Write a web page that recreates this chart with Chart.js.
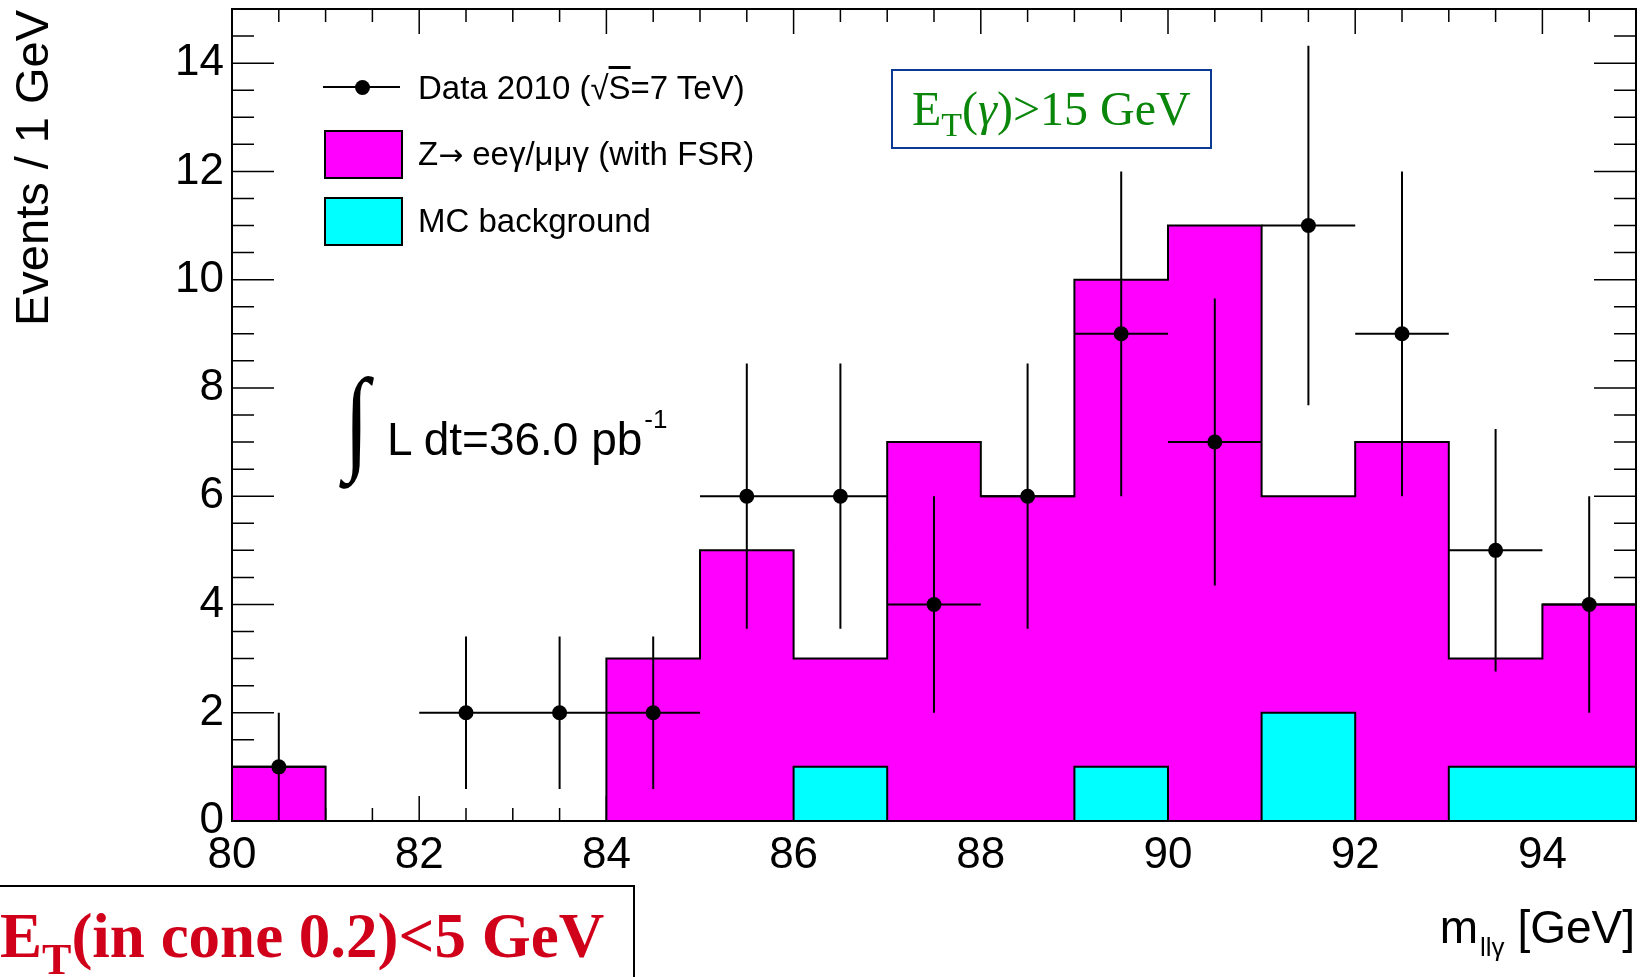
<!DOCTYPE html>
<html>
<head>
<meta charset="utf-8">
<title>m(llγ) distribution</title>
<script src="https://cdn.jsdelivr.net/npm/chart.js@4.4.1/dist/chart.umd.min.js"></script>
<style>
  html, body { margin: 0; padding: 0; background: #fff; }
  #wrap { position: relative; width: 1648px; height: 977px; overflow: hidden;
          font-family: "Liberation Sans", Arial, sans-serif; }
  #wrap canvas { position: absolute; left: 0; top: 0; }
  .txt { position: absolute; white-space: nowrap; line-height: 1; color: #000; }
  .serif { font-family: "Liberation Serif", "Times New Roman", serif; }
  .box { position: absolute; box-sizing: border-box; }
  .arrow { font-family: "DejaVu Sans", sans-serif; font-size: 0.9em; }
</style>
</head>
<body>
<div id="wrap">
  <canvas id="c" width="1648" height="977"></canvas>

  <div class="txt" style="left:8px; top:326px; font-size:47px; transform-origin:0 0; transform:rotate(-90deg);">Events / 1 GeV</div>
  <div class="txt" style="right:13px; top:904px; font-size:46px;">m<span style="font-size:26px; vertical-align:-13px; line-height:0; margin-left:2px;">llγ</span> [GeV]</div>

  <div id="legend"></div>

  <div class="txt serif" style="left:344px; top:362px; font-size:115px; transform-origin:0 0; transform:scaleX(0.8);">∫</div>
  <div class="txt" style="left:387px; top:416px; font-size:46px;">L dt=36.0 pb<span style="font-size:26px; vertical-align:27px; line-height:0; margin-left:2px;">-1</span></div>

  <div class="box" style="left:891px; top:69px; width:321px; height:80px; border:2.5px solid #0b3a94;"></div>
  <div class="txt serif" style="left:912px; top:85px; font-size:48px; color:#0a870a;">E<span style="font-size:34px; vertical-align:-11px; line-height:0;">T</span>(<i>γ</i>)&gt;15 GeV</div>

  <div class="box" style="left:-4px; top:885px; width:639px; height:120px; border:2px solid #000;"></div>
  <div class="txt serif" style="left:0px; top:905px; font-size:63px; font-weight:bold; color:#d0001a;">E<span style="font-size:44px; vertical-align:-17px; line-height:0;">T</span>(in cone 0.2)&lt;5 GeV</div>
</div>

<script>
// bins of m_llγ, 1 GeV wide
const binEdges = [80, 81, 82, 83, 84, 85, 86, 87, 88, 89, 90, 91, 92, 93, 94, 95];
const binCenters = [80.5, 81.5, 82.5, 83.5, 84.5, 85.5, 86.5, 87.5, 88.5, 89.5, 90.5, 91.5, 92.5, 93.5, 94.5];

// top of the stacked MC (Z -> eeγ/μμγ drawn over the background)
const stackTotal = [1, 0, 0, 0, 3, 5, 3, 7, 6, 10, 11, 6, 7, 3, 4];
const mcBackground = [0, 0, 0, 0, 0, 0, 1, 0, 0, 1, 0, 2, 0, 1, 1];

// data 2010 and its errors
const dataCounts = [1, 0, 2, 2, 2, 6, 6, 4, 6, 9, 7, 11, 9, 5, 4];
const dataErrors = [1, 0, 1.41, 1.41, 1.41, 2.45, 2.45, 2, 2.45, 3, 2.65, 3.32, 3, 2.24, 2];

const xMajorTicks = [80, 82, 84, 86, 88, 90, 92, 94];
const yMajorTicks = [0, 2, 4, 6, 8, 10, 12, 14];
const minorStep = 0.5;

Chart.defaults.font.family = '"Liberation Sans", Arial, sans-serif';
Chart.defaults.color = '#000';

// one point per bin edge, the last edge repeats the last bin
function histSteps(contents) {
    return binEdges.map((x, i) => ({ x: x, y: contents[Math.min(i, contents.length - 1)] }));
}

/**
 * Ticks pointing inwards on all four sides, frame drawn on top
 */
const frameTicks = {
    id: 'frameTicks',
    beforeDatasetsDraw(chart) {
        const { ctx, chartArea: a, scales: { x, y } } = chart;
        ctx.save();
        ctx.strokeStyle = '#000';
        ctx.lineWidth = 1.5;
        ctx.beginPath();
        for (let v = x.min; v <= x.max + 1e-9; v += minorStep) {
            const px = x.getPixelForValue(v);
            const len = xMajorTicks.includes(v) ? 25 : 13;
            ctx.moveTo(px, a.bottom); ctx.lineTo(px, a.bottom - len);
            ctx.moveTo(px, a.top); ctx.lineTo(px, a.top + len);
        }
        for (let v = y.min; v <= y.max + 1e-9; v += minorStep) {
            const py = y.getPixelForValue(v);
            const len = yMajorTicks.includes(v) ? 42 : 22;
            ctx.moveTo(a.left, py); ctx.lineTo(a.left + len, py);
            ctx.moveTo(a.right, py); ctx.lineTo(a.right - len, py);
        }
        ctx.stroke();
        ctx.restore();
    },
    afterDatasetsDraw(chart) {
        const { ctx, chartArea: a } = chart;
        ctx.save();
        ctx.strokeStyle = '#000';
        ctx.lineWidth = 2;
        ctx.strokeRect(a.left, a.top, a.right - a.left, a.bottom - a.top);
        ctx.restore();
    }
};

/**
 * Error bars of the data: sqrt(N) vertically, bin width horizontally
 */
const errorBars = {
    id: 'errorBars',
    afterDatasetsDraw(chart) {
        const { ctx, scales: { x, y } } = chart;
        ctx.save();
        ctx.strokeStyle = '#000';
        ctx.lineWidth = 2;
        ctx.beginPath();
        binCenters.forEach((c, i) => {
            if (dataCounts[i] <= 0) return;
            const px = x.getPixelForValue(c);
            const py = y.getPixelForValue(dataCounts[i]);
            ctx.moveTo(px, y.getPixelForValue(dataCounts[i] - dataErrors[i]));
            ctx.lineTo(px, y.getPixelForValue(dataCounts[i] + dataErrors[i]));
            ctx.moveTo(x.getPixelForValue(c - 0.5), py);
            ctx.lineTo(x.getPixelForValue(c + 0.5), py);
        });
        ctx.stroke();
        ctx.restore();
    }
};

const chart = new Chart(document.getElementById('c'), {
    type: 'line',
    data: {
        datasets: [
            {
                label: 'Data 2010',
                legendHtml: 'Data 2010 (√<span style="text-decoration:overline">S</span>=7 TeV)',
                kind: 'marker',
                data: binCenters.map((x, i) => ({ x: x, y: dataCounts[i] })).filter(p => p.y > 0),
                showLine: false,
                pointRadius: 7.5,
                pointHoverRadius: 7.5,
                pointBackgroundColor: '#000',
                pointBorderWidth: 0
            },
            {
                label: 'MC background',
                legendHtml: 'MC background',
                kind: 'box',
                data: histSteps(mcBackground),
                stepped: 'before',
                fill: 'origin',
                backgroundColor: '#00ffff',
                borderColor: '#000',
                borderWidth: 2,
                pointRadius: 0
            },
            {
                label: 'Z→ eeγ/μμγ (with FSR)',
                legendHtml: 'Z<span class="arrow">→</span> eeγ/μμγ (with FSR)',
                kind: 'box',
                data: histSteps(stackTotal),
                stepped: 'before',
                fill: 'origin',
                backgroundColor: '#ff00ff',
                borderColor: '#000',
                borderWidth: 2,
                pointRadius: 0
            }
        ]
    },
    options: {
        responsive: false,
        animation: false,
        events: [],
        layout: { padding: { top: 9, right: 12, left: 0, bottom: 0 } },
        plugins: {
            legend: { display: false },
            tooltip: { enabled: false }
        },
        scales: {
            x: {
                type: 'linear',
                min: 80,
                max: 95,
                grid: { display: false, drawTicks: false },
                border: { display: false },
                afterBuildTicks: s => { s.ticks = xMajorTicks.map(v => ({ value: v })); },
                afterFit: s => { s.height = 156; s.paddingLeft = 0; s.paddingRight = 0; },
                ticks: { font: { size: 44 }, color: '#000', padding: 8, maxRotation: 0, autoSkip: false }
            },
            y: {
                type: 'linear',
                min: 0,
                max: 15,
                grid: { display: false, drawTicks: false },
                border: { display: false },
                afterBuildTicks: s => { s.ticks = yMajorTicks.map(v => ({ value: v })); },
                afterFit: s => { s.width = 232; s.paddingTop = 0; s.paddingBottom = 0; },
                ticks: { font: { size: 44 }, color: '#000', padding: 8, autoSkip: false }
            }
        }
    },
    plugins: [frameTicks, errorBars]
});

// legend in the ROOT order: data, signal, background
function buildLegend(chart) {
    const order = [0, 2, 1];
    const rowTop = [71, 137, 204];
    const legend = document.getElementById('legend');
    legend.innerHTML = '';
    order.forEach((idx, r) => {
        const ds = chart.data.datasets[idx];
        const top = rowTop[r];
        if (ds.kind === 'marker') {
            legend.innerHTML += `
                <div class="box" style="left:323px; top:${top + 15}px; width:77px; height:2px; background:#000;"></div>
                <div class="box" style="left:355px; top:${top + 8.5}px; width:15px; height:15px; border-radius:50%; background:#000;"></div>`;
        } else {
            legend.innerHTML += `
                <div class="box" style="left:324px; top:${top - 7}px; width:79px; height:49px; border:2px solid #000; background:${ds.backgroundColor};"></div>`;
        }
        legend.innerHTML += `<div class="txt" style="left:418px; top:${top}px; font-size:33px;">${ds.legendHtml}</div>`;
    });
}
buildLegend(chart);
</script>
</body>
</html>
